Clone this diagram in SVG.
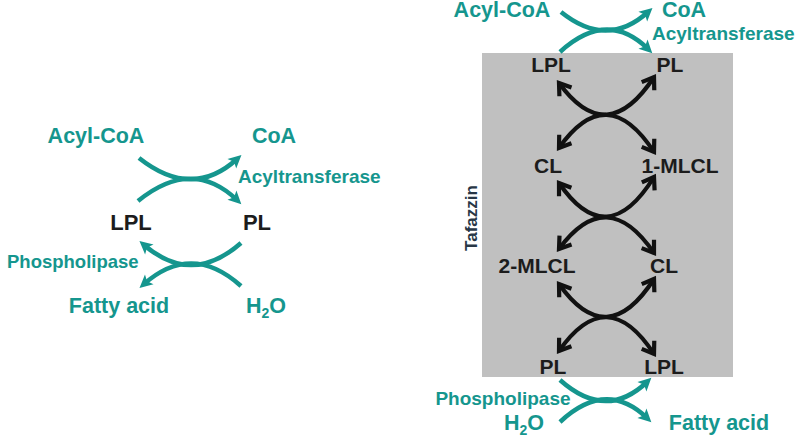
<svg xmlns="http://www.w3.org/2000/svg" width="800" height="437" viewBox="0 0 800 437">
<style>
.t{font-family:"Liberation Sans",Arial,sans-serif;font-weight:bold;fill:#15968e;text-anchor:middle}
.ts{font-family:"Liberation Sans",Arial,sans-serif;font-weight:bold;fill:#15968e;text-anchor:start}
.k{font-family:"Liberation Sans",Arial,sans-serif;font-weight:bold;fill:#1c1c1c;text-anchor:middle}
.tc{fill:none;stroke:#15968e;stroke-width:4.5}
.bc{fill:none;stroke:#111;stroke-width:4.2}
</style>
<defs>
<marker id="ta" viewBox="-2 -8 18 16" refX="7" refY="0" markerWidth="18" markerHeight="16" markerUnits="userSpaceOnUse" orient="auto">
<path d="M0,-6.5 L13,0 L0,6.5 L3,0 Z" fill="#15968e"/>
</marker>
<marker id="ba" viewBox="-14 -10 18 20" refX="0" refY="0" markerWidth="18" markerHeight="20" markerUnits="userSpaceOnUse" orient="auto-start-reverse">
<path d="M-11,-7.5 L0,0 L-11,7.5" fill="none" stroke="#111" stroke-width="4.2" stroke-linejoin="miter"/>
</marker>
</defs>
<rect id="tafazzin-box" x="482" y="53" width="251" height="324" fill="#c0c0c0"/>
<g id="connectors">
<path class="tc" d="M139,158 Q192,200 237,159" marker-end="url(#ta)"/>
<path class="tc" d="M138,201 Q192,157 237,200" marker-end="url(#ta)"/>
<path class="tc" d="M241,243 Q192,286 144,245" marker-end="url(#ta)"/>
<path class="tc" d="M241,286 Q192,242 144,284" marker-end="url(#ta)"/>
<path class="tc" d="M561,12 Q607,49 648,12" marker-end="url(#ta)"/>
<path class="tc" d="M560,52 Q607,9 648,49" marker-end="url(#ta)"/>
<path class="tc" d="M560,380 Q606,421 647,382" marker-end="url(#ta)"/>
<path class="tc" d="M560,422 Q606,379 647,418" marker-end="url(#ta)"/>
<path class="bc" d="M559,83 Q607,149 654,77" marker-start="url(#ba)" marker-end="url(#ba)"/>
<path class="bc" d="M559,148 Q607,80 654,152" marker-start="url(#ba)" marker-end="url(#ba)"/>
<path class="bc" d="M559,183 Q607,253 654,177" marker-start="url(#ba)" marker-end="url(#ba)"/>
<path class="bc" d="M559,249 Q607,184 654,253" marker-start="url(#ba)" marker-end="url(#ba)"/>
<path class="bc" d="M559,284 Q607,352 654,279" marker-start="url(#ba)" marker-end="url(#ba)"/>
<path class="bc" d="M559,351 Q607,282 654,354" marker-start="url(#ba)" marker-end="url(#ba)"/>
</g>
<g id="left-acylcoa"><text class="t" x="96" y="143" font-size="21.5">Acyl-CoA</text></g>
<g id="left-coa"><text class="t" x="274" y="143" font-size="21.5">CoA</text></g>
<g id="left-acyltransferase"><text class="ts" x="238" y="183" font-size="19">Acyltransferase</text></g>
<g id="left-lpl"><text class="k" x="131" y="230" font-size="22">LPL</text></g>
<g id="left-pl"><text class="k" x="257" y="230" font-size="22">PL</text></g>
<g id="left-phospholipase"><text class="ts" x="7" y="268" font-size="18.5">Phospholipase</text></g>
<g id="left-fattyacid"><text class="t" x="119" y="313" font-size="21.5">Fatty acid</text></g>
<g id="left-h2o"><text class="t" x="266" y="313" font-size="21.5">H<tspan font-size="14" dy="5">2</tspan><tspan dy="-5">O</tspan></text></g>
<g id="right-acylcoa"><text class="t" x="502" y="17" font-size="21.5">Acyl-CoA</text></g>
<g id="right-coa"><text class="t" x="684" y="17" font-size="21.5">CoA</text></g>
<g id="right-acyltransferase"><text class="ts" x="652" y="40" font-size="19">Acyltransferase</text></g>
<g id="right-lpl-top"><text class="k" x="551" y="72" font-size="21">LPL</text></g>
<g id="right-pl-top"><text class="k" x="670" y="72" font-size="21">PL</text></g>
<g id="right-cl-1"><text class="k" x="548" y="173" font-size="21">CL</text></g>
<g id="right-1mlcl"><text class="k" x="680" y="173" font-size="21">1-MLCL</text></g>
<g id="right-2mlcl"><text class="k" x="537" y="273" font-size="21">2-MLCL</text></g>
<g id="right-cl-2"><text class="k" x="664" y="273" font-size="21">CL</text></g>
<g id="right-pl-bottom"><text class="k" x="553" y="374" font-size="21">PL</text></g>
<g id="right-lpl-bottom"><text class="k" x="664" y="374" font-size="21">LPL</text></g>
<g id="right-phospholipase"><text class="t" x="503" y="405" font-size="19">Phospholipase</text></g>
<g id="right-h2o"><text class="t" x="524" y="430" font-size="21.5">H<tspan font-size="14" dy="5">2</tspan><tspan dy="-5">O</tspan></text></g>
<g id="right-fattyacid"><text class="t" x="719" y="430" font-size="21.5">Fatty acid</text></g>
<g id="tafazzin-label"><text x="477" y="218" font-family="Liberation Sans, Arial, sans-serif" font-weight="bold" font-size="17" fill="#283746" text-anchor="middle" transform="rotate(-90 477 218)">Tafazzin</text></g>
</svg>
